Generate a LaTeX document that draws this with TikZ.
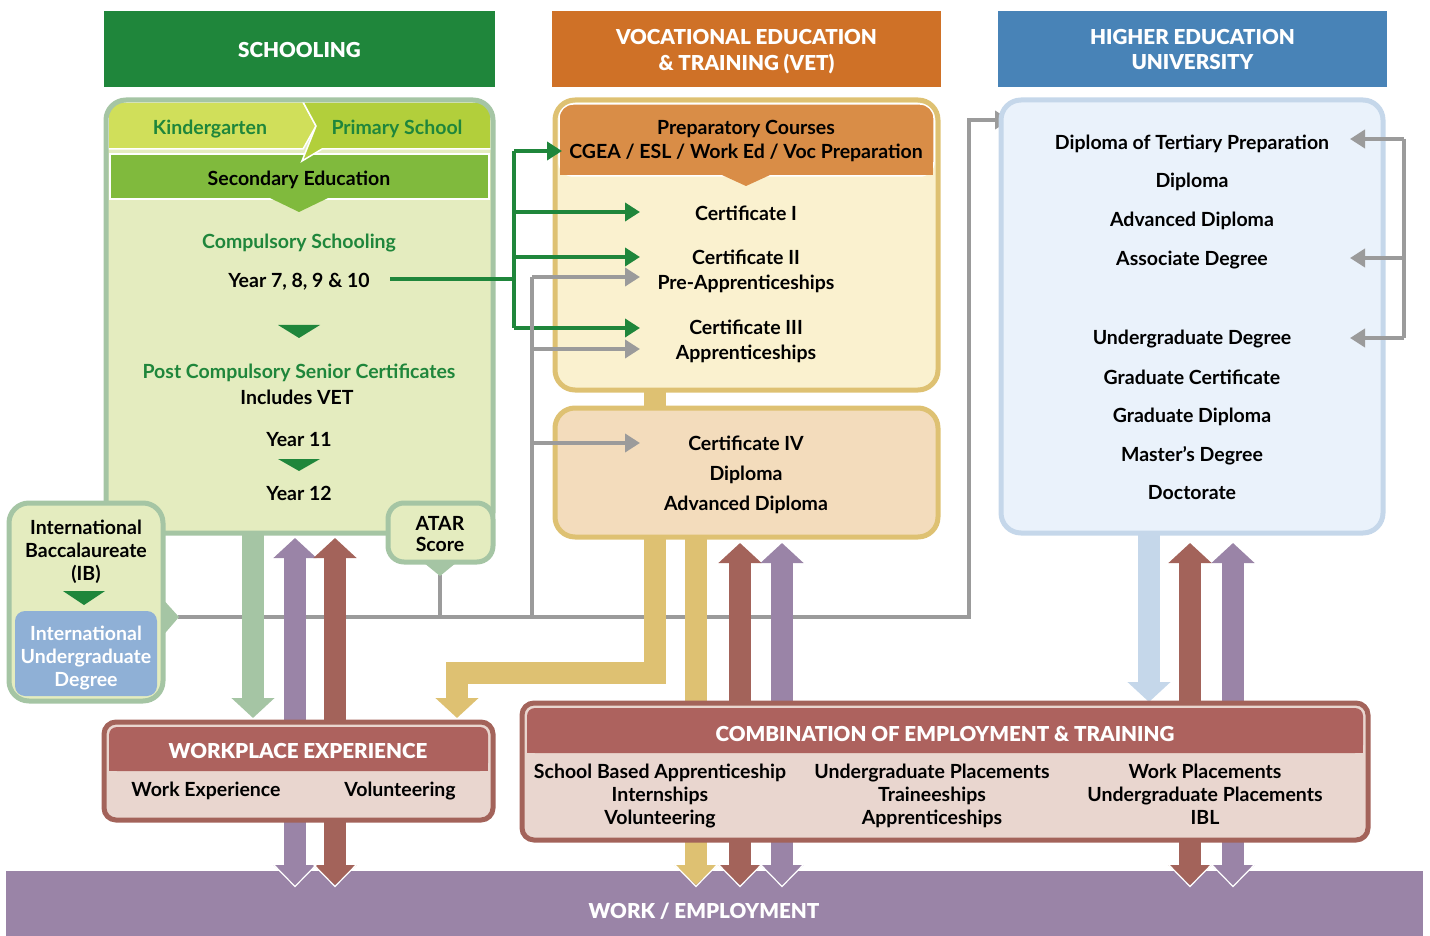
\documentclass[tikz,border=0pt]{standalone}
\usepackage{fontspec}
\setmainfont{Lato}
\newfontfamily\heavyfont{Lato Black}
\usepackage{tikz}
\usetikzlibrary{arrows.meta,calc}

\definecolor{schgreen}{HTML}{1F863B}
\definecolor{sagebd}{HTML}{A5C5A4}
\definecolor{palegreen}{HTML}{E4ECBF}
\definecolor{kindercol}{HTML}{D0DF5A}
\definecolor{primarycol}{HTML}{B2CF3B}
\definecolor{secgreen}{HTML}{80BA3D}
\definecolor{vetorange}{HTML}{CF7127}
\definecolor{prepcol}{HTML}{D98D47}
\definecolor{gold}{HTML}{DEC172}
\definecolor{cream}{HTML}{FAF1CF}
\definecolor{peach}{HTML}{F3DCBC}
\definecolor{unibl}{HTML}{4883B7}
\definecolor{bluebd}{HTML}{C5D7EA}
\definecolor{bluefill}{HTML}{EAF2FB}
\definecolor{ibblue}{HTML}{8FB0D6}
\definecolor{brownar}{HTML}{A3635A}
\definecolor{brownhd}{HTML}{AD625E}
\definecolor{pinkfill}{HTML}{E9D6CF}
\definecolor{purp}{HTML}{9A84A7}
\definecolor{lgray}{HTML}{9B9B9B}

\begin{document}
\begin{tikzpicture}[x=0.5pt,y=-0.5pt,
    every node/.style={font=\bfseries\fontsize{9.75}{11.5}\selectfont,inner sep=0pt,align=center},
    head/.style={text=white,font=\heavyfont\fontsize{10.3}{13}\selectfont},
    bandtitle/.style={text=white,font=\heavyfont\fontsize{10.3}{12}\selectfont},
    panel/.style={line width=2.5pt,rounded corners=10pt},
    grayline/.style={line width=2pt,color=lgray},
    grayarrow/.style={grayline,-{Triangle[width=9pt,length=7.5pt]}},
    greenline/.style={line width=2pt,color=schgreen},
    greenarrow/.style={greenline,-{Triangle[width=9pt,length=7.5pt]}},
    fat/.style={line width=11pt,-{Triangle[width=21pt,length=10pt]}},
    fatboth/.style={line width=11pt,{Triangle[width=21pt,length=10pt]}-{Triangle[width=21pt,length=10pt]}}]
    \useasboundingbox (0,0) rectangle (1430,936);

    % Work / Employment
    \fill[purp] (6,871) rectangle (1423,936);
    \node[bandtitle] (work) at (704,911) {WORK / EMPLOYMENT};

    % Headers
    \fill[schgreen] (104,11) rectangle (495,87);
    \fill[vetorange] (552,11) rectangle (941,87);
    \fill[unibl] (998,11) rectangle (1387,87);
    \node[head] (schoolhd) at (299.5,50) {SCHOOLING};
    \node[head] (vethd) at (746.5,51.5) {VOCATIONAL EDUCATION\\\& TRAINING (VET)};
    \node[head] (unihd) at (1192.5,49.5) {HIGHER EDUCATION\\UNIVERSITY};

    % Gray pathway line
    \coordinate (ibtip) at (178,617);
    \coordinate (atartip) at (440,575);
    \coordinate (gturn) at (969,617);
    \coordinate (uniin) at (1010,120);
    \draw[grayarrow] (ibtip) -- (gturn) |- (uniin);
    \draw[grayline] (atartip) -- (atartip |- gturn);

    % Big arrows
    \draw[fat,color=sagebd] (253,533) -- (253,718);
    \draw[fat,color=gold] (655,537) -- (655,673) -- (457,673) -- (457,718);
    \draw[fat,color=gold] (696,537) -- (696,885);
    \draw[fat,color=bluebd] (1149,535) -- (1149,702);
    \draw[line width=11pt,color=gold] (655,388) -- (655,410);
    \foreach \x/\c/\t in {295/purp/538,335/brownar/538,740/brownar/543,782/purp/543,1190/brownar/543,1233/purp/543}
        \draw[fatboth,color=\c] (\x,\t) -- (\x,885);
    % white edges where the arrows enter the work band
    \foreach \x in {295,335,696,740,782,1190,1233}
        \draw[white,line width=0.6pt] (\x-22,864) -- (\x,886.5) -- (\x+22,864);

    % Schooling panel
    \begin{scope}
        \clip[rounded corners=10pt] (106,100) rectangle (493,533);
        \fill[palegreen] (106,100) rectangle (493,533);
        \filldraw[fill=kindercol,draw=white,line width=0.75pt] (108,102) -- (303,102) -- (316,126) -- (303,149) -- (108,149) -- cycle;
        \filldraw[fill=secgreen,draw=white,line width=0.75pt] (110,154) rectangle (489,199);
        \fill[secgreen] (270,198) -- (299,212) -- (328,198) -- cycle;
        \filldraw[fill=primarycol,draw=white,line width=0.75pt] (303,102) -- (491,102) -- (491,149) -- (322,149) -- (302,161) -- (316,126) -- cycle;
    \end{scope}
    \draw[panel,draw=sagebd] (106,100) rectangle (493,533);
    \node[text=schgreen] (kinder) at (210,129) {Kindergarten};
    \node[text=schgreen] (primary) at (397,129) {Primary School};
    \node (secondary) at (299,180) {Secondary Education};
    \node[text=schgreen] (compuls) at (299,243) {Compulsory Schooling};
    \node (yrseven) at (299,282) {Year 7, 8, 9 \& 10};
    \fill[schgreen] (278,325) -- (320,325) -- (299,338) -- cycle;
    \node[text=schgreen] (postcomp) at (299,373) {Post Compulsory Senior Certificates};
    \node (inclvet) at (297,397) {Includes VET};
    \node (yreleven) at (299,440) {Year 11};
    \fill[schgreen] (278,459) -- (320,459) -- (299,471) -- cycle;
    \node (yrtwelve) at (299,493) {Year 12};

    % IB and ATAR
    \fill[sagebd] (160,596) -- (179,617) -- (160,639) -- cycle;
    \filldraw[panel,fill=palegreen,draw=sagebd] (9,503) rectangle (163,701);
    \node (ib) at (86,552) {International\\Baccalaureate\\(IB)};
    \fill[schgreen] (63,591) -- (105,591) -- (84,605) -- cycle;
    \fill[ibblue,rounded corners=5pt] (15,611) rectangle (157,696);
    \node[text=white] (iud) at (86,658) {International\\Undergraduate\\Degree};
    \fill[sagebd] (418,558) -- (440,576) -- (462,558) -- cycle;
    \filldraw[panel,fill=palegreen,draw=sagebd,rounded corners=8pt] (388,503) rectangle (493,562);
    \node[font=\bfseries\fontsize{9.75}{10.5}\selectfont] (atar) at (440,534) {ATAR\\Score};

    % VET panels
    \begin{scope}
        \clip[rounded corners=10pt] (555,100) rectangle (938,390);
        \fill[cream] (555,100) rectangle (938,390);
        \filldraw[fill=prepcol,draw=white,line width=0.75pt,rounded corners=7pt] (559,104) rectangle (934,176);
        \fill[prepcol] (560,150) rectangle (933,175.5);
        \fill[prepcol] (722,175) -- (746,186) -- (770,175) -- cycle;
    \end{scope}
    \draw[panel,draw=gold] (555,100) rectangle (938,390);
    \node[font=\bfseries\fontsize{9.75}{12}\selectfont] (prep) at (746,141) {Preparatory Courses\\CGEA / ESL / Work Ed / Voc Preparation};
    \node (certone) at (746,213) {Certificate I};
    \node[font=\bfseries\fontsize{9.75}{12.5}\selectfont] (certtwo) at (746,271.5) {Certificate II\\Pre-Apprenticeships};
    \node[font=\bfseries\fontsize{9.75}{12.5}\selectfont] (certthree) at (746,341.5) {Certificate III\\Apprenticeships};
    \filldraw[panel,fill=peach,draw=gold] (555,408) rectangle (938,537);
    \node[font=\bfseries\fontsize{9.75}{15}\selectfont] (certfour) at (746,475) {Certificate IV\\Diploma\\Advanced Diploma};

    % Higher education panel
    \filldraw[panel,fill=bluefill,draw=bluebd] (1001,100) rectangle (1383,533);
    \foreach \y/\t [count=\i] in {144/Diploma of Tertiary Preparation,182/Diploma,221/Advanced Diploma,260/Associate Degree,339/Undergraduate Degree,377/Graduate Certificate,417/Graduate Diploma,456/Master's Degree,493/Doctorate}
        \node (uni\i) at (1192,\y) {\t};

    % Green pathways from Year 10
    \coordinate (gsplit) at (514,279);
    \coordinate (gtop) at (514,151);
    \coordinate (gbot) at (514,328);
    \draw[greenline] ($(gsplit -| yrseven.east)+(20,0)$) -- (gsplit);
    \draw[greenline] (gtop) -- (gbot);
    \draw[greenarrow] (gtop) -- (562,151);
    \foreach \y in {212,257,328}
        \draw[greenarrow] (514,\y) -- (640,\y);

    % Gray pathways into VET
    \coordinate (gvbot) at (532,617);
    \coordinate (gvtop) at (532,277);
    \draw[grayline] (gvbot) -- (gvtop);
    \foreach \y in {277,349,443}
        \draw[grayarrow] (532,\y) -- (640,\y);

    % Pathways within university
    \coordinate (brtop) at (1404,139);
    \coordinate (brbot) at (1404,338);
    \draw[grayline] (brtop) -- (brbot);
    \foreach \y in {139,258,338}
        \draw[grayarrow] (1404,\y) -- (1350,\y);

    % Workplace experience
    \filldraw[fill=pinkfill,draw=brownar,line width=2.5pt,rounded corners=6pt] (104,722) rectangle (493,820);
    \fill[brownhd,rounded corners=4pt] (109,727) rectangle (488,771);
    \fill[brownhd] (109,750) rectangle (488,771);
    \node[bandtitle] (wphd) at (298,751) {WORKPLACE EXPERIENCE};
    \node (wexp) at (206,791) {Work Experience};
    \node (wvol) at (400,791) {Volunteering};

    % Combination of employment and training
    \filldraw[fill=pinkfill,draw=brownar,line width=2.5pt,rounded corners=6pt] (522,703) rectangle (1368,840);
    \fill[brownhd,rounded corners=4pt] (527,708) rectangle (1363,753);
    \fill[brownhd] (527,730) rectangle (1363,753);
    \node[bandtitle] (combhd) at (945,734) {COMBINATION OF EMPLOYMENT \& TRAINING};
    \node (comba) at (660,796) {School Based Apprenticeship\\Internships\\Volunteering};
    \node (combb) at (932,796) {Undergraduate Placements\\Traineeships\\Apprenticeships};
    \node (combc) at (1205,794) {Work Placements\\Undergraduate Placements\\IBL};
\end{tikzpicture}
\end{document}
